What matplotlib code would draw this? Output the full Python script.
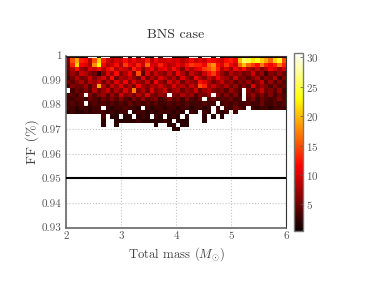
import numpy as np
import matplotlib
matplotlib.use('Agg')
import matplotlib.pyplot as plt

plt.rcParams['font.family'] = ['cmr10', 'DejaVu Serif']
plt.rcParams['mathtext.fontset'] = 'cm'
plt.rcParams['axes.formatter.use_mathtext'] = True
plt.rcParams['axes.unicode_minus'] = False

# Counts per cell, top row first; 0 means an empty cell.
row_00 = [2,2,1,1,2,0,0,1,0,0,2,1,2,0,1,0,2,0,1,1,0,2,0,0,1,1,2,2,0,0,1,0,0,2,0,1,2,2,1,2,2,1,2,2,1,2,1,1,2,2]
row_01 = [6,15,19,13,12,8,15,21,13,9,8,10,9,12,9,11,9,9,13,8,11,9,9,10,9,10,8,9,11,9,10,9,12,11,10,9,12,13,11,20,26,25,22,24,21,19,16,21,24,15]
row_02 = [5,13,21,11,10,8,18,23,11,8,9,12,8,14,11,9,13,9,16,10,9,13,10,8,9,11,9,12,14,13,13,11,16,18,12,10,14,11,9,16,20,16,14,12,17,13,11,13,17,13]
row_03 = [5,8,12,7,6,10,9,12,8,11,13,8,10,9,7,13,10,6,9,11,7,10,11,8,12,9,6,10,8,10,11,14,15,17,13,8,10,7,11,9,12,8,7,9,6,8,11,9,7,10]
row_04 = [4,7,5,9,8,6,5,2,6,10,7,12,6,8,11,6,15,4,10,6,9,7,6,9,6,11,8,5,9,7,6,9,12,14,10,7,5,8,6,7,5,6,9,5,7,3,6,5,7,5]
row_05 = [3,5,8,5,6,9,6,8,10,6,12,5,8,7,9,7,5,10,5,8,6,10,8,6,8,5,10,7,5,11,8,6,9,7,11,8,7,5,9,5,6,4,6,8,4,6,5,8,3,6]
row_06 = [5,4,6,8,5,8,7,9,5,8,6,10,7,11,6,10,7,6,9,5,11,7,5,10,7,9,5,8,7,6,12,10,8,5,7,9,6,7,4,6,5,7,4,6,9,4,7,4,6,4]
row_07 = [3,6,5,5,7,4,7,19,8,5,9,7,10,6,8,5,11,7,6,8,7,9,7,6,10,7,8,6,9,7,15,13,7,9,7,6,8,5,7,4,6,4,10,5,7,6,4,6,4,5]
row_08 = [0,3,5,4,6,4,8,5,7,9,5,8,6,10,7,17,6,8,5,10,6,7,9,5,7,8,5,7,6,9,5,7,8,6,5,6,4,7,5,4,0,6,4,6,9,5,6,4,7,3]
row_09 = [3,4,3,5,0,6,4,6,7,4,7,5,9,6,7,5,8,6,10,6,5,7,6,0,6,5,8,6,7,4,6,5,7,0,6,4,6,4,6,3,0,5,7,4,6,4,6,3,5,4]
row_10 = [3,3,4,4,3,5,4,3,5,4,6,4,6,4,3,6,4,7,4,5,6,3,4,6,4,5,3,6,4,3,5,0,4,5,3,4,4,5,3,4,0,4,6,3,5,4,3,4,6,4]
row_11 = [3,4,3,4,0,3,4,3,4,3,4,3,4,3,5,3,4,3,4,3,4,3,3,4,3,4,3,4,3,3,3,4,3,3,0,3,4,3,4,3,3,4,3,3,5,3,3,4,3,4]
row_12 = [3,3,2,3,3,2,3,3,0,3,2,3,3,4,3,3,2,0,3,2,3,3,2,3,3,2,3,3,2,3,3,2,3,0,3,0,3,3,5,4,3,0,3,2,3,3,2,3,3,3]
row_13 = [2,3,2,2,3,2,3,3,3,2,3,2,3,3,0,2,3,3,2,3,2,3,3,3,2,3,2,0,3,2,0,3,2,0,3,2,3,0,3,0,0,0,0,0,0,0,0,0,0,0]
row_14 = [0,0,0,0,0,0,0,0,3,0,2,2,0,2,2,0,2,3,2,0,3,2,0,2,3,2,0,2,0,0,0,2,0,2,0,2,0,0,0,0,0,0,0,0,0,0,0,0,0,0]
row_15 = [0,0,0,0,0,0,0,0,2,0,0,2,2,2,2,2,3,2,2,2,2,2,3,2,0,2,2,2,0,0,0,2,0,0,0,0,0,0,0,0,0,0,0,0,0,0,0,0,0,0]
row_16 = [0,0,0,0,0,0,0,0,2,0,0,2,0,0,0,0,0,0,0,0,2,0,0,2,2,0,2,2,0,0,0,0,0,0,0,0,0,0,0,0,0,0,0,0,0,0,0,0,0,0]
row_17 = [0,0,0,0,0,0,0,0,0,0,0,0,0,0,0,0,0,0,0,0,0,0,0,0,2,2,0,0,0,0,0,0,0,0,0,0,0,0,0,0,0,0,0,0,0,0,0,0,0,0]

all_rows = [row_00, row_01, row_02, row_03, row_04, row_05, row_06, row_07, row_08,
            row_09, row_10, row_11, row_12, row_13, row_14, row_15, row_16, row_17]

mass_ticks = [2, 3, 4, 5, 6]
ff_ticks = [0.93, 0.94, 0.95, 0.96, 0.97, 0.98, 0.99, 1.0]
ff_tick_labels = ['0.93', '0.94', '0.95', '0.96', '0.97', '0.98', '0.99', '1']
threshold = 0.95
cbar_ticks = [5, 10, 15, 20, 25, 30]

W, H = 374, 299
fig = plt.figure(figsize=(W / 100, H / 100), dpi=100)
ax = fig.add_axes([66 / W, 1 - 227.5 / H, 220 / W, 172 / H])

counts = np.ma.masked_equal(np.array(all_rows, dtype=float), 0)
n_rows, n_cols = counts.shape
x_edges = np.linspace(2, 6, n_cols + 1)
y_edges = 1.0006 - 0.00175 * np.arange(n_rows + 1)

ax.set_xlim(2, 6)
ax.set_ylim(0.93, 1.0)
ax.grid(True, ls=':', color='#c4c4c4', lw=0.8, zorder=1)
ax.set_axisbelow(True)
mesh = ax.pcolormesh(x_edges, y_edges, counts, cmap='hot', vmin=0.5, vmax=30.7, zorder=2, rasterized=True)
ax.axhline(threshold, color='black', lw=1.5, zorder=3)

ax.set_xticks(mass_ticks)
ax.set_xticklabels([str(v) for v in mass_ticks])
ax.set_yticks(ff_ticks)
ax.set_yticklabels(ff_tick_labels)
ax.tick_params(axis='both', labelsize=8, colors='#555555', length=0, pad=3)
for name in ['left', 'bottom']:
    ax.spines[name].set_color('#666666')
    ax.spines[name].set_linewidth(1.2)
for name in ['top', 'right']:
    ax.spines[name].set_color('#333333')
    ax.spines[name].set_linewidth(0.8)

ax.set_xlabel(r'Total mass ($M_{\odot}$)', fontsize=9.2, color='#444444', labelpad=3)
ax.set_ylabel('FF (%)', fontsize=10, color='#444444', labelpad=2)
ax.set_title('BNS case', fontsize=10, color='#333333', pad=12.5)

cax = fig.add_axes([294 / W, 1 - 231 / H, 9 / W, 178 / H])
cbar = fig.colorbar(mesh, cax=cax, ticks=cbar_ticks)
cbar.ax.tick_params(labelsize=8, colors='#555555', length=2, width=0.5, pad=2, direction='in')
cbar.outline.set_edgecolor('#777777')
cbar.outline.set_linewidth(1.0)

fig.savefig('out.png', dpi=100)
